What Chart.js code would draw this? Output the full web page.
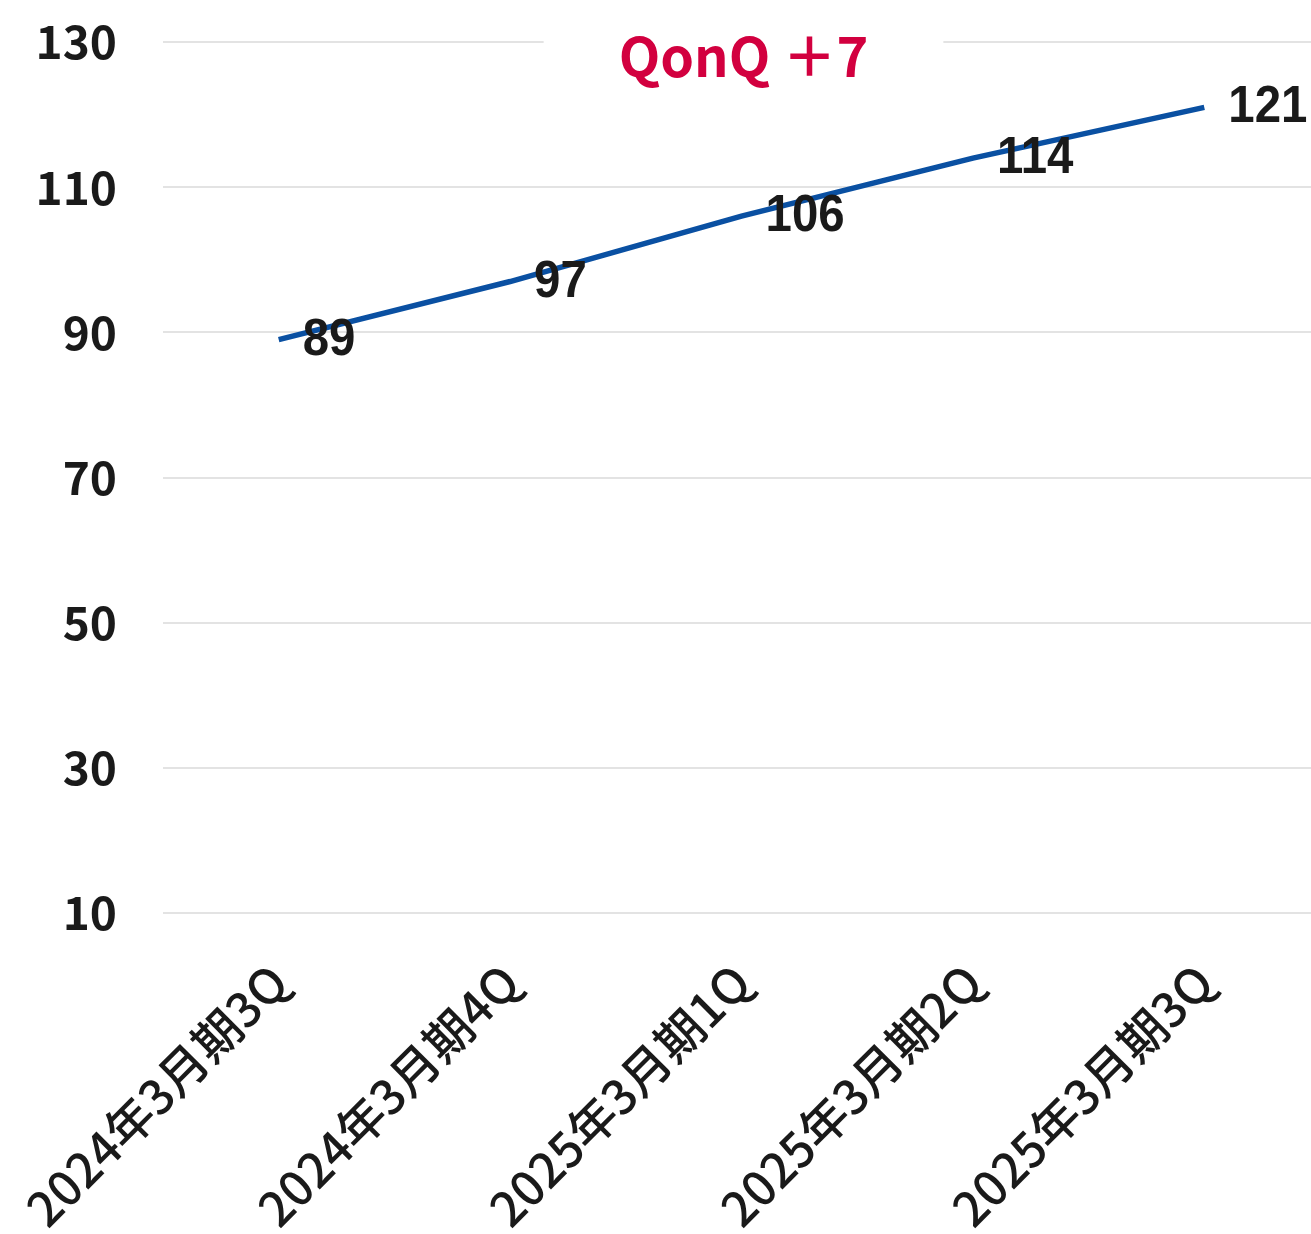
<!DOCTYPE html>
<html>
<head>
<meta charset="utf-8">
<script src="https://cdn.jsdelivr.net/npm/chart.js@4/dist/chart.umd.min.js"></script>
<style>
  html, body { margin: 0; padding: 0; background: #ffffff; overflow: hidden; }
  #wrap { position: relative; width: 1320px; height: 1234px; }
</style>
</head>
<body>
<div id="wrap"><canvas id="chart"></canvas></div>
<script>
// Quarterly series
const categories = ['2024年3月期3Q', '2024年3月期4Q', '2025年3月期1Q', '2025年3月期2Q', '2025年3月期3Q'];
const values = [89, 97, 106, 114, 121];
const yTickValues = [10, 30, 50, 70, 90, 110, 130];
const headline = 'QonQ ＋7';

const FONT = '"Noto Sans CJK JP", "Noto Sans", sans-serif';
const LABEL_FONT = '"Liberation Sans", Arial, sans-serif';
const INK = '#1a1a1a';

// Headline drawn over the top gridline on a white plate
const headlinePlugin = {
  id: 'headline',
  afterDraw(chart) {
    const { ctx, chartArea } = chart;
    const cx = (chartArea.left + chartArea.right) / 2 + 2;
    const cy = chartArea.top + 14;
    ctx.save();
    ctx.font = 'bold 54px ' + FONT;
    const w = ctx.measureText(headline).width;
    ctx.fillStyle = '#ffffff';
    ctx.fillRect(cx - w / 2 - 75, chartArea.top - 6, w + 150, 12);
    ctx.fillStyle = '#d2003f';
    ctx.textAlign = 'center';
    ctx.textBaseline = 'middle';
    ctx.fillText(headline, cx, cy);
    ctx.restore();
  }
};

// Value labels to the right of each point, slightly condensed
const valueLabelPlugin = {
  id: 'valueLabels',
  afterDatasetsDraw(chart) {
    const { ctx } = chart;
    const meta = chart.getDatasetMeta(0);
    const squeeze = 0.93;
    meta.data.forEach((pt, i) => {
      ctx.save();
      ctx.font = 'bold 51px ' + LABEL_FONT;
      ctx.fillStyle = INK;
      ctx.textAlign = 'left';
      ctx.textBaseline = 'middle';
      ctx.translate(pt.x + 24, pt.y + 1);
      ctx.scale(squeeze, 1);
      ctx.fillText(String(values[i]), 0, 0);
      ctx.restore();
    });
  }
};

new Chart(document.getElementById('chart'), {
  type: 'line',
  data: {
    labels: categories,
    datasets: [{
      data: values,
      borderColor: '#0a50a2',
      borderWidth: 5.5,
      pointRadius: 0,
      pointHoverRadius: 0,
      tension: 0,
      fill: false
    }]
  },
  options: {
    responsive: true,
    maintainAspectRatio: false,
    animation: false,
    events: [],
    layout: { padding: { top: 42, right: 0, bottom: 0, left: 0 } },
    plugins: {
      legend: { display: false },
      tooltip: { enabled: false },
      title: { display: false }
    },
    scales: {
      x: {
        type: 'category',
        offset: true,
        grid: { display: false, drawTicks: false },
        border: { display: false },
        ticks: {
          color: INK,
          font: { family: FONT, size: 48, weight: 500 },
          maxRotation: 45,
          minRotation: 45,
          autoSkip: false,
          padding: 40
        },
        afterFit(scale) {
          scale.height = 321;
          scale.paddingLeft = 0;
          scale.paddingRight = 0;
        }
      },
      y: {
        min: 10,
        max: 130,
        grid: { color: '#e3e3e3', lineWidth: 2, drawTicks: false },
        border: { display: false },
        ticks: {
          stepSize: 20,
          color: INK,
          font: { family: FONT, size: 46, weight: 'bold' },
          padding: 46
        },
        afterBuildTicks(scale) {
          scale.ticks = yTickValues.map(v => ({ value: v }));
        },
        afterFit(scale) {
          scale.width = 163;
          scale.paddingTop = 0;
          scale.paddingBottom = 0;
        }
      }
    }
  },
  plugins: [headlinePlugin, valueLabelPlugin]
});
</script>
</body>
</html>
